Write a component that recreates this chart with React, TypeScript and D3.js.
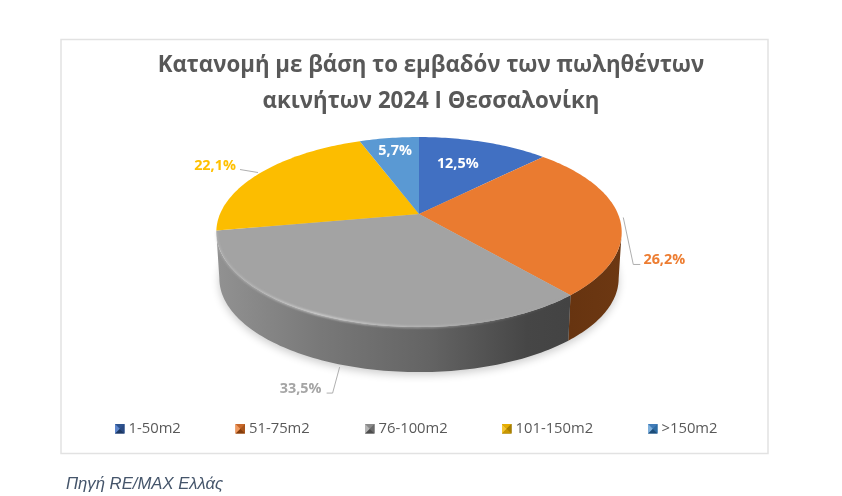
import React from "react";
import * as d3 from "d3";

const categories = ["1-50m2", "51-75m2", "76-100m2", "101-150m2", ">150m2"];
const shares = [12.5, 26.2, 33.5, 22.1, 5.7];
const shareLabels = ["12,5%", "26,2%", "33,5%", "22,1%", "5,7%"];
const faceColors = ["#4170c2", "#ea7b30", "#a3a3a3", "#fcbd00", "#5a99d3"];
const markerShades = [
  ["#2f528f", "#2a4a82", "#1f3864", "#5f86cc", "#35609f"],
  ["#c8682a", "#a9541a", "#843c0c", "#f09a60", "#c8682a"],
  ["#8a8a8a", "#6b6b6b", "#4d4d4d", "#b5b5b5", "#828282"],
  ["#e6ad00", "#a98000", "#c99700", "#f5c530", "#8a6a00"],
  ["#3f7cb8", "#2e6da4", "#1f4e79", "#7fb0dc", "#3f7cb8"],
];
const titleLines = ["Κατανομή με βάση το εμβαδόν των πωληθέντων", "ακινήτων 2024 Ι Θεσσαλονίκη"];
const sourceText = "Πηγή RE/MAX Ελλάς";

const W = 842, H = 496;
const CX = 419, CY = 214, A = 199, B = 91.6, P = 0.19;
const DEPTH = 46.7, SHRINK = 0.985;
const SIL_R = (101 * Math.PI) / 180, SIL_L = (259 * Math.PI) / 180;
const LEGEND_X = [115, 235.5, 365, 502, 648];

const top = (t: number): [number, number] => {
  const u = Math.sin(t), v = -Math.cos(t), d = 1 - P * v;
  return [CX + (A * u) / d, CY + (B * v) / d];
};
const bot = (t: number): [number, number] => {
  const [x, y] = top(t);
  return [CX + (x - CX) * SHRINK, CY + (y - CY) * SHRINK + DEPTH];
};
const samples = (a: number, b: number) => {
  const n = Math.max(2, Math.ceil(Math.abs(b - a) / 0.02));
  return d3.range(n + 1).map((i) => a + ((b - a) * i) / n);
};
const line = d3.line<[number, number]>();

const pieGen = d3.pie<number>().sort(null).startAngle(0).endAngle(2 * Math.PI);
const arcs = pieGen(shares);

type LabelStyle = { dx: number; dy: number; fill: string };
const labelStyles: LabelStyle[] = [
  { dx: -26, dy: 26, fill: "#ffffff" },
  { dx: 45, dy: 47, fill: "#ed7d31" },
  { dx: -37, dy: 74, fill: "#a5a5a5" },
  { dx: -46, dy: -3, fill: "#ffc000" },
  { dx: 6, dy: 17, fill: "#ffffff" },
];
const leaderOffsets: ([number, number][] | null)[] = [
  null,
  [[4, 0], [14, 47], [21, 47]],
  [[2, 48], [-5, 74], [-11, 74]],
  [[-3, 0], [-21, -3]],
  null,
];

export default function App() {
  const all = samples(0, 2 * Math.PI);
  const rimArc = samples(arcs[1].endAngle, SIL_L);
  return (
    <svg
      width={W}
      height={H}
      viewBox={`0 0 ${W} ${H}`}
      style={{ position: "absolute", left: 0, top: 0, background: "#fff", display: "block" }}
    >
      <defs>
        <filter id="sh" x="-20%" y="-30%" width="140%" height="160%">
          <feGaussianBlur stdDeviation="4" />
        </filter>
        <filter id="soft" x="-10%" y="-20%" width="120%" height="140%">
          <feGaussianBlur stdDeviation="0.8" />
        </filter>
        <filter id="mk" x="-20%" y="-20%" width="140%" height="140%">
          <feGaussianBlur stdDeviation="0.45" />
        </filter>
        <filter id="txt" x="-5%" y="-20%" width="110%" height="140%">
          <feGaussianBlur stdDeviation="0.25" />
        </filter>
        <linearGradient id="graySide" gradientUnits="userSpaceOnUse" x1="215" x2="570" y1="0" y2="0">
          <stop offset="0" stopColor="#929292" />
          <stop offset="0.3" stopColor="#787878" />
          <stop offset="0.6" stopColor="#646464" />
          <stop offset="0.88" stopColor="#464646" />
          <stop offset="1" stopColor="#434343" />
        </linearGradient>
        <linearGradient id="orangeSide" gradientUnits="userSpaceOnUse" x1="570" x2="621" y1="0" y2="0">
          <stop offset="0" stopColor="#673410" />
          <stop offset="1" stopColor="#6d3812" />
        </linearGradient>
        <linearGradient id="rim" gradientUnits="userSpaceOnUse" x1="215" x2="570" y1="0" y2="0">
          <stop offset="0" stopColor="#d0d0d0" stopOpacity="0.4" />
          <stop offset="0.3" stopColor="#e6e6e6" stopOpacity="0.95" />
          <stop offset="0.6" stopColor="#c8c8c8" stopOpacity="0.7" />
          <stop offset="1" stopColor="#a5a5a5" stopOpacity="0" />
        </linearGradient>
      </defs>

      <rect x={61} y={39.5} width={707} height={414} fill="#fff" stroke="#e2e2e2" strokeWidth={1.5} />

      <g fontFamily="'Open Sans'" fontWeight={700} fontSize={22.25} fill="#595959" textAnchor="middle" filter="url(#txt)">
        {titleLines.map((t, i) => (
          <text key={i} x={431} y={72 + i * 35.5}>{t}</text>
        ))}
      </g>

      <path d={line(all.map(bot))! + "Z"} transform="translate(0,3)" fill="#000" opacity={0.2} filter="url(#sh)" />

      {arcs.map((a, i) => {
        const s = Math.max(a.startAngle, SIL_R), e = Math.min(a.endAngle, SIL_L);
        if (e <= s) return null;
        const pts = samples(s, e);
        return (
          <path
            key={i}
            d={line([...pts.map(top), ...pts.slice().reverse().map(bot)])! + "Z"}
            fill={i === 1 ? "url(#orangeSide)" : "url(#graySide)"}
          />
        );
      })}

      {arcs.map((a, i) => {
        const pts = samples(a.startAngle, a.endAngle).map(top);
        return <path key={i} d={line([[CX, CY], ...pts])! + "Z"} fill={faceColors[i]} />;
      })}

      <path d={line(rimArc.map(top))!} fill="none" stroke="url(#rim)" strokeWidth={1.6} filter="url(#soft)" />

      {arcs.map((a, i) => {
        const mid = (a.startAngle + a.endAngle) / 2;
        const [mx, my] = top(mid);
        const st = labelStyles[i];
        const lead = leaderOffsets[i];
        return (
          <g key={i}>
            {lead && (
              <path
                d={line(lead.map(([dx, dy]) => [mx + dx, my + dy] as [number, number]))!}
                fill="none"
                stroke="#a6a6a6"
                strokeWidth={0.9}
              />
            )}
            <text
              x={mx + st.dx}
              y={my + st.dy}
              textAnchor="middle"
              fontFamily="'Open Sans'"
              fontWeight={700}
              fontSize={14.4}
              fill={st.fill}
              filter="url(#txt)"
            >
              {shareLabels[i]}
            </text>
          </g>
        );
      })}

      {categories.map((c, i) => {
        const x = LEGEND_X[i];
        const y = 424, s = 9.5, m = s / 2;
        const sh = markerShades[i];
        const tris: [number, number][][] = [
          [[0, 0], [s, 0], [m, m]],
          [[s, 0], [s, s], [m, m]],
          [[0, s], [s, s], [m, m]],
          [[0, 0], [0, s], [m, m]],
        ];
        return (
          <g key={c}>
            <g transform={`translate(${x},${y})`} filter="url(#mk)">
              <rect width={s} height={s} fill={sh[4]} />
              {tris.map((t, j) => (
                <path key={j} d={line(t)! + "Z"} fill={sh[j]} />
              ))}
            </g>
            <text x={x + 13.5} y={433} fontFamily="'Open Sans'" fontSize={14.8} fill="#595959" filter="url(#txt)">
              {c}
            </text>
          </g>
        );
      })}

      <text x={66} y={489} fontFamily="'Liberation Sans'" fontStyle="italic" fontSize={16.7} fill="#44546a" filter="url(#txt)">
        {sourceText}
      </text>
    </svg>
  );
}
